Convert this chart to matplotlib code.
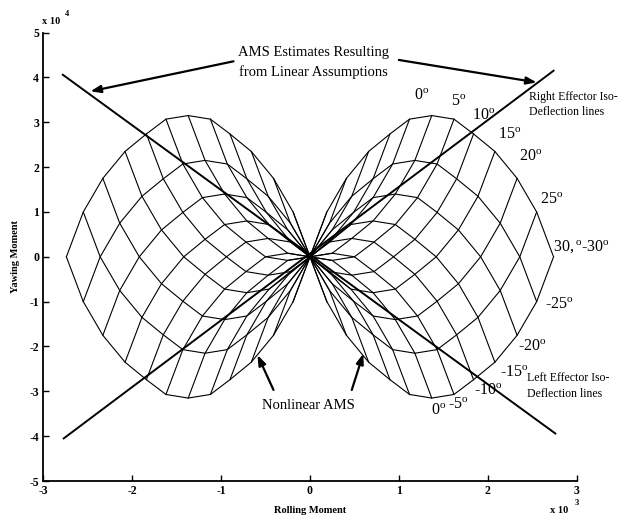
import matplotlib
matplotlib.use('Agg')
import matplotlib.pyplot as plt
import numpy as np

# ---- data ----
# moment produced by one effector vs its deflection (deg)
deflections = [-30, -25, -20, -15, -10, -5, 0, 5, 10, 15, 20, 25, 30]
roll_effector = [-1.37, -1.18, -0.96, -0.71, -0.47, -0.25, 0.0,
                 0.25, 0.47, 0.71, 0.96, 1.18, 1.37]          # x 10^3
yaw_effector = [-3.15, -2.15, -1.40, -0.80, -0.41, -0.08, 0.0,
                -0.08, -0.41, -0.80, -1.40, -2.15, -3.15]     # x 10^4

# linear-assumption AMS estimate lines (end points)
lin1_x = [-2.78, 2.76]
lin1_y = [4.06, -3.94]
lin2_x = [-2.77, 2.74]
lin2_y = [-4.05, 4.15]

x_ticks = [-3, -2, -1, 0, 1, 2, 3]
y_ticks = [-5, -4, -3, -2, -1, 0, 1, 2, 3, 4, 5]

right_labels = ['0', '5', '10', '15', '20', '25']
left_labels = ['25', '20', '15', '10', '5']

plt.rcParams['font.family'] = ['Liberation Serif', 'DejaVu Serif']
plt.rcParams['mathtext.fontset'] = 'custom'
plt.rcParams['mathtext.rm'] = 'Liberation Serif'
plt.rcParams['mathtext.it'] = 'Liberation Serif:italic'
plt.rcParams['mathtext.bf'] = 'Liberation Serif:bold'

fig = plt.figure(figsize=(6.29, 5.16), dpi=100)
ax = fig.add_axes([0.0688, 0.0678, 0.848, 0.869])

r = np.array(roll_effector)
yw = np.array(yaw_effector)

# total moment = right effector(a) + left effector(b) = f(a) - f(b)
for i in range(len(deflections)):
    ax.plot(r[i] - r, yw[i] - yw, color='black', lw=0.8)
for j in range(len(deflections)):
    ax.plot(r - r[j], yw - yw[j], color='black', lw=0.8)

ax.plot(lin1_x, lin1_y, color='black', lw=1.4)
ax.plot(lin2_x, lin2_y, color='black', lw=1.4)

ax.set_xlim(-3, 3)
ax.set_ylim(-5, 5)
ax.set_xticks(x_ticks)
ax.set_yticks(y_ticks)
ax.set_xticklabels([str(v) for v in x_ticks], fontsize=8.5, fontweight='bold')
ax.set_yticklabels([str(v) for v in y_ticks], fontsize=8.5, fontweight='bold')
ax.tick_params(direction='in', length=4, width=1, pad=3)
for s in ['top', 'right']:
    ax.spines[s].set_visible(False)
for s in ['left', 'bottom']:
    ax.spines[s].set_linewidth(1.3)

ax.set_xlabel('Rolling Moment', fontsize=7.5, fontweight='bold', labelpad=6)
ax.set_ylabel('Yawing Moment', fontsize=7.5, fontweight='bold', labelpad=7)

fig.text(0.067, 0.958, 'x 10', fontsize=7.5, fontweight='bold', ha='left', va='center')
fig.text(0.103, 0.972, '4', fontsize=6, fontweight='bold', ha='left', va='center')
fig.text(0.874, 0.010, 'x 10', fontsize=7.5, fontweight='bold', ha='left', va='center')
fig.text(0.913, 0.026, '3', fontsize=6, fontweight='bold', ha='left', va='center')

arrow = dict(arrowstyle='-|>,head_length=0.6,head_width=0.22', color='black', lw=1.6,
             shrinkA=0, shrinkB=0)

ax.text(0.04, 4.55, 'AMS Estimates Resulting', fontsize=10.5, ha='center', va='center')
ax.text(0.04, 4.11, 'from Linear Assumptions', fontsize=10.5, ha='center', va='center')
ax.annotate('', xy=(-2.47, 3.69), xytext=(-0.86, 4.36), arrowprops=arrow)
ax.annotate('', xy=(2.55, 3.89), xytext=(1.00, 4.39), arrowprops=arrow)

ax.text(-0.02, -3.31, 'Nonlinear AMS', fontsize=10.5, ha='center', va='center')
ax.annotate('', xy=(-0.59, -2.19), xytext=(-0.41, -2.97), arrowprops=arrow)
ax.annotate('', xy=(0.60, -2.16), xytext=(0.47, -2.97), arrowprops=arrow)


def deg(s, neg=False):
    return ('-' if neg else '') + r'$\mathrm{' + s + r'}^{\mathrm{o}}$'


right_pos = [(1.26, 3.58), (1.67, 3.46), (1.95, 3.15), (2.25, 2.72), (2.48, 2.22), (2.72, 1.26)]
for lab, (x, y) in zip(right_labels, right_pos):
    ax.text(x, y, deg(lab), fontsize=11.5, ha='center', va='center')
left_pos = [(2.80, -1.08), (2.50, -2.02), (2.30, -2.58), (2.01, -3.00), (1.67, -3.30)]
for lab, (x, y) in zip(left_labels, left_pos):
    ax.text(x, y, deg(lab, True), fontsize=11.5, ha='center', va='center')
ax.text(1.45, -3.43, deg('0'), fontsize=11.5, ha='center', va='center')
ax.text(3.06, 0.22, r'$\mathrm{30,}^{\mathrm{o}}$-$\mathrm{30}^{\mathrm{o}}$', fontsize=11.5,
        ha='center', va='center', clip_on=False)

ax.text(2.46, 3.56, 'Right Effector Iso-', fontsize=8.5, ha='left', va='center', clip_on=False)
ax.text(2.46, 3.23, 'Deflection lines', fontsize=8.5, ha='left', va='center', clip_on=False)
ax.text(2.44, -2.71, 'Left Effector Iso-', fontsize=8.5, ha='left', va='center', clip_on=False)
ax.text(2.44, -3.06, 'Deflection lines', fontsize=8.5, ha='left', va='center', clip_on=False)

fig.savefig('out.png', dpi=100)
